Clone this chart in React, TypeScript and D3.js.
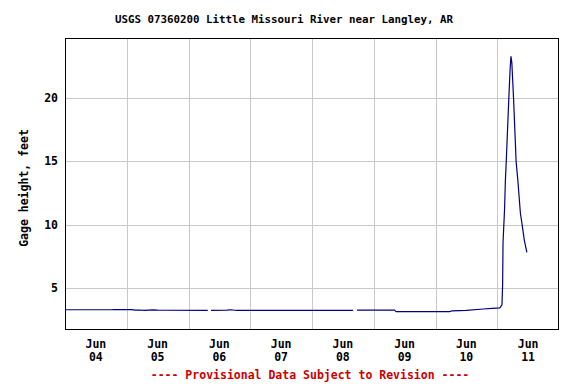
import React from 'react';
import * as d3 from 'd3';

const title = 'USGS 07360200 Little Missouri River near Langley, AR';
const yLabel = 'Gage height, feet';
const footer = '---- Provisional Data Subject to Revision ----';

const dayTicks = ['06-04', '06-05', '06-06', '06-07', '06-08', '06-09', '06-10', '06-11'];
const yTicks = [5, 10, 15, 20];

// readings, null = missing data
const times = [
  '06-04 00:00', '06-04 18:00', '06-04 19:00', '06-05 02:00', '06-05 03:00', '06-05 05:00',
  '06-05 07:00', '06-05 10:00', '06-05 12:00', '06-05 15:00', '06-06 07:30', '06-06 08:00',
  '06-06 08:45', '06-06 15:00', '06-06 16:30', '06-06 18:00', '06-06 19:00', '06-08 16:00',
  '06-08 16:45', '06-08 17:30', '06-09 08:00', '06-09 08:45', '06-10 05:30', '06-10 06:30',
  '06-10 12:00', '06-10 18:30', '06-10 22:00', '06-11 01:00', '06-11 01:50', '06-11 02:05',
  '06-11 02:15', '06-11 02:50', '06-11 03:10', '06-11 03:30', '06-11 04:30', '06-11 05:00',
  '06-11 05:20', '06-11 05:40', '06-11 06:20', '06-11 07:20', '06-11 08:00', '06-11 09:00',
  '06-11 09:40', '06-11 10:30', '06-11 11:30',
];
const gage: (number | null)[] = [
  3.27, 3.27, 3.28, 3.28, 3.24, 3.25,
  3.23, 3.26, 3.24, 3.23, 3.22, null,
  3.22, 3.24, 3.27, 3.23, 3.22, 3.22,
  null, 3.24, 3.24, 3.12, 3.12, 3.19,
  3.22, 3.33, 3.38, 3.42, 3.66, 5.2,
  8.6, 11.2, 13.5, 15.0, 20.0, 22.3,
  23.3, 22.8, 20.0, 15.0, 13.5, 10.9,
  10.0, 8.8, 7.8,
];

const W = 576;
const H = 384;
const m = { top: 38, right: 17, bottom: 55, left: 65 };
const font = '"DejaVu Sans Mono", monospace';

const parse = d3.timeParse('%m-%d %H:%M');

export default function App() {
  const x = d3
    .scaleTime()
    .domain([parse('06-04 00:00') as Date, parse('06-12 00:00') as Date])
    .range([m.left, W - m.right]);
  const y = d3.scaleLinear().domain([1.75, 24.75]).range([H - m.bottom, m.top]);

  const pts = times.map((t, i) => ({ t: parse(t) as Date, v: gage[i] }));
  const line = d3
    .line<{ t: Date; v: number | null }>()
    .defined(d => d.v !== null)
    .x(d => x(d.t))
    .y(d => y(d.v as number));

  const days = dayTicks.map(d => parse(d + ' 00:00') as Date);
  const noon = (d: Date) => d3.timeHour.offset(d, 12);

  return (
    <div style={{ position: 'fixed', left: 0, top: 0 }}>
      <svg width={W} height={H} style={{ display: 'block', background: '#fff' }}>
        <text x={284} y={23} textAnchor="middle" fontFamily={font} fontWeight="bold" fontSize={10.8}>
          {title}
        </text>

        {/* grid */}
        {yTicks.map(t => (
          <line key={t} x1={m.left} x2={W - m.right} y1={Math.round(y(t)) + 0.5} y2={Math.round(y(t)) + 0.5} stroke="#c8c8c8" />
        ))}
        {days.slice(1).map((d, i) => (
          <line key={i} x1={Math.round(x(d)) + 0.5} x2={Math.round(x(d)) + 0.5} y1={m.top} y2={H - m.bottom} stroke="#c8c8c8" />
        ))}

        <path d={line(pts) || ''} fill="none" stroke="#000080" strokeWidth={1.2} />

        <rect x={m.left + 0.5} y={m.top + 0.5} width={W - m.left - m.right - 1} height={H - m.top - m.bottom} fill="none" stroke="#000" />

        {yTicks.map(t => (
          <text key={t} x={58} y={y(t) + 4} textAnchor="end" fontFamily={font} fontWeight="bold" fontSize={11.5}>
            {t}
          </text>
        ))}
        <text transform="translate(28,188) rotate(-90)" textAnchor="middle" fontFamily={font} fontWeight="bold" fontSize={11.5}>
          {yLabel}
        </text>

        {days.map((d, i) => (
          <g key={i} fontFamily={font} fontWeight="bold" fontSize={11.5} textAnchor="middle">
            <text x={x(noon(d))} y={348}>{d3.timeFormat('%b')(d)}</text>
            <text x={x(noon(d))} y={361}>{d3.timeFormat('%d')(d)}</text>
          </g>
        ))}

        <text x={310} y={379} textAnchor="middle" fontFamily={font} fontWeight="bold" fontSize={11.5} fill="#cc0000">
          {footer}
        </text>
      </svg>
    </div>
  );
}
